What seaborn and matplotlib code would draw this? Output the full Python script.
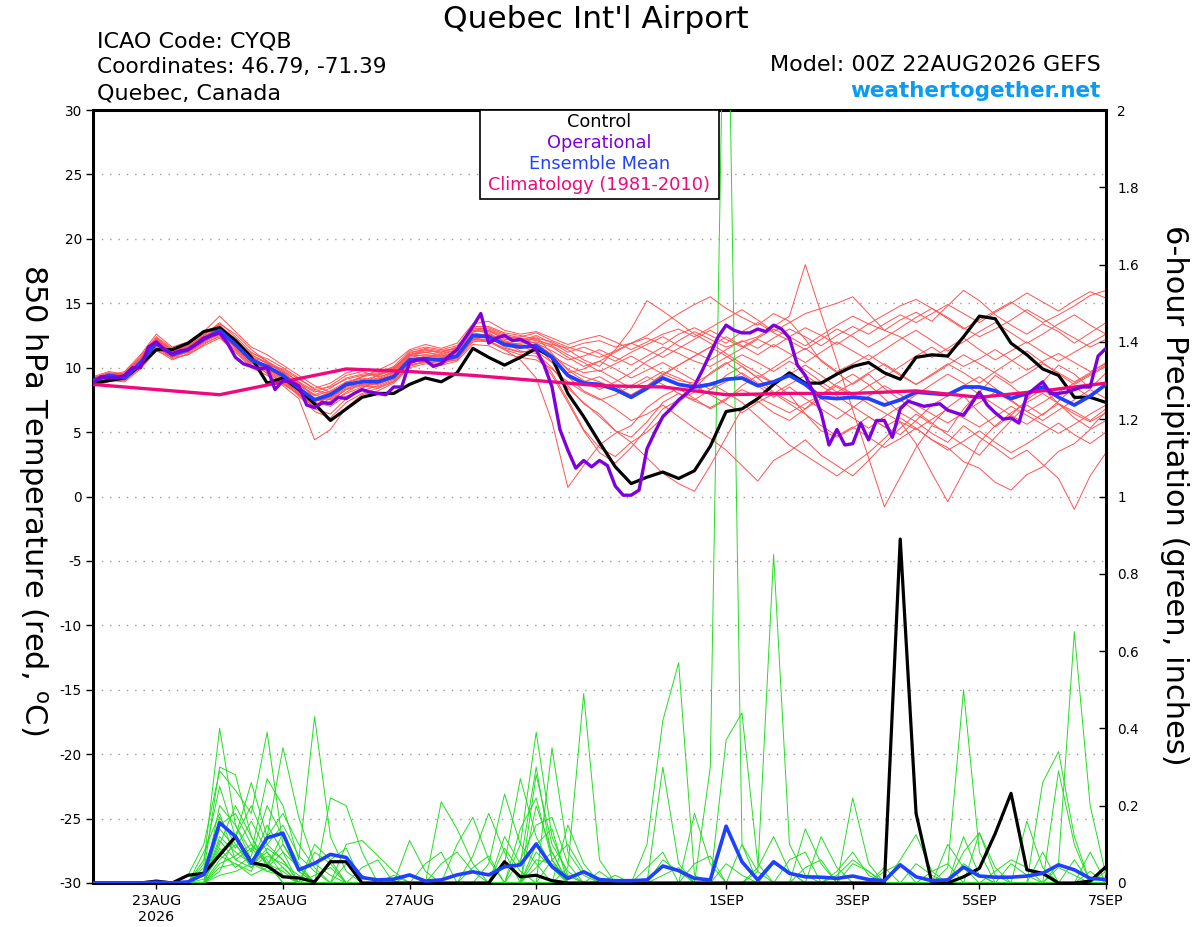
import numpy as np
import pandas as pd
import seaborn as sns
import matplotlib.pyplot as plt
from matplotlib.patches import Rectangle

# ---------------- data: GEFS 00Z 22AUG2026, Quebec (CYQB) ----------------
start, end = "2026-08-22 00:00", "2026-09-07 00:00"
steps = pd.date_range(start, end, freq="6h")      # 65 steps
steps_3h = pd.date_range(start, end, freq="3h")   # operational run, 129 steps
clim_days = pd.date_range(start, end, freq="1D")  # 17 days

# 850 hPa temperature (C), 6-hourly
control_temp = [8.8, 9.0, 9.2, 10.2, 11.4, 11.4, 11.9, 12.8, 13.1, 12.1, 10.8, 8.8, 9.2,
                8.3, 7.2, 5.9, 6.8, 7.7, 8.0, 8.0, 8.7, 9.2, 8.9, 9.6, 11.5, 10.8,
                10.2, 10.8, 11.5, 10.8, 8.0, 6.2, 4.2, 2.3, 1.0, 1.5, 1.9, 1.4, 2.0,
                3.9, 6.6, 6.8, 7.6, 8.7, 9.6, 8.8, 8.8, 9.5, 10.1, 10.4, 9.6, 9.1,
                10.8, 11.0, 10.9, 12.4, 14.0, 13.8, 11.9, 11.0, 9.9, 9.4, 7.7, 7.7, 7.3]

mean_temp = [9.0, 9.4, 9.2, 10.4, 11.9, 11.0, 11.4, 12.2, 12.9, 11.8, 10.6, 10.1, 9.4,
             8.4, 7.5, 7.9, 8.7, 8.9, 8.9, 9.3, 10.6, 10.7, 10.6, 10.9, 12.5, 12.4,
             11.8, 11.6, 11.7, 10.8, 9.4, 8.8, 8.7, 8.3, 7.7, 8.4, 9.2, 8.7, 8.5,
             8.7, 9.1, 9.2, 8.6, 8.9, 9.4, 8.7, 7.7, 7.6, 7.7, 7.6, 7.1, 7.5,
             8.1, 8.0, 7.9, 8.5, 8.5, 8.2, 7.6, 8.0, 8.5, 7.7, 7.1, 7.8, 8.7]

# operational run, 3-hourly (one row per day)
oper_temp = [8.8, 9.3, 9.2, 9.2, 9.4, 10.0, 10.0, 11.6,
             12.0, 11.4, 11.1, 11.3, 11.4, 11.8, 12.3, 12.5,
             12.7, 11.9, 10.8, 10.3, 10.1, 9.9, 10.0, 8.3,
             9.0, 8.9, 8.6, 7.1, 6.9, 7.3, 7.2, 7.7,
             7.6, 8.0, 8.3, 8.1, 8.0, 7.9, 8.5, 8.5,
             10.4, 10.6, 10.6, 10.1, 10.3, 10.9, 11.4, 12.3,
             13.2, 14.2, 11.9, 12.3, 12.5, 12.1, 12.2, 11.9,
             11.4, 10.2, 8.5, 5.2, 3.6, 2.2, 2.8, 2.3,
             2.8, 2.4, 0.8, 0.1, 0.1, 0.5, 3.7, 5.0,
             6.2, 6.8, 7.5, 8.0, 8.6, 9.8, 11.1, 12.4,
             13.3, 12.9, 12.7, 12.7, 13.0, 12.8, 13.3, 13.0,
             12.3, 10.2, 9.4, 8.1, 6.5, 4.0, 5.2, 4.0,
             4.1, 5.7, 4.4, 5.9, 5.9, 4.6, 6.8, 7.4,
             7.2, 7.0, 7.1, 7.2, 6.7, 6.5, 6.3, 7.2,
             8.1, 7.1, 6.5, 6.0, 6.1, 5.7, 7.9, 8.4,
             8.9, 8.0, 8.0, 8.1, 8.3, 8.5, 8.5, 10.9,
             11.5]

# 1981-2010 climatology, daily
clim_temp = [8.7, 8.3, 7.9, 8.9, 9.9, 9.7, 9.4, 9.0, 8.6, 8.5, 7.9, 8.0, 8.0, 8.2, 7.7, 8.2, 8.8]

# ensemble members, 850 hPa temperature
temp_members = [
    [8.8, 9.2, 9.5, 10.8, 12.3, 11.3, 11.6, 12.5, 13.4, 12.6, 11.4, 10.5, 9.8,
     8.9, 7.6, 7.2, 8.1, 8.8, 9.4, 9.9, 11.0, 11.4, 11.2, 11.6, 13.0, 13.1,
     12.6, 12.3, 12.1, 11.8, 11.5, 11.9, 12.1, 11.6, 11.9, 12.3, 11.8, 12.6, 13.1,
     12.5, 11.9, 12.8, 13.5, 12.7, 12.1, 11.4, 12.2, 13.0, 12.4, 11.6, 12.3, 13.1,
     13.9, 14.6, 13.8, 13.0, 13.7, 14.4, 15.1, 14.3, 13.5, 14.1, 14.8, 15.6, 16.0],
    [9.1, 9.5, 9.3, 10.2, 11.6, 10.9, 11.2, 12.0, 12.6, 11.5, 10.2, 9.6, 8.8,
     7.9, 6.9, 7.4, 8.3, 8.6, 8.5, 9.0, 10.2, 10.5, 10.3, 10.8, 12.1, 12.0,
     11.4, 10.6, 9.2, 5.8, 0.7, 2.4, 4.0, 4.9, 5.5, 6.9, 7.8, 8.4, 7.6,
     6.8, 7.5, 8.6, 9.4, 8.8, 7.9, 6.4, 5.1, 4.6, 5.3, 6.2, 5.4, 4.8,
     5.9, 7.1, 7.8, 8.6, 9.3, 8.4, 7.5, 6.6, 7.3, 8.1, 8.8, 9.5, 10.2],
    [8.9, 9.3, 9.0, 10.1, 11.8, 11.1, 11.5, 12.3, 13.2, 12.0, 10.8, 10.4, 9.6,
     8.2, 6.8, 6.4, 7.6, 8.4, 9.1, 9.6, 10.9, 11.0, 10.8, 11.2, 12.8, 12.9,
     12.2, 12.0, 12.4, 11.1, 9.8, 9.0, 8.3, 8.9, 9.6, 10.5, 11.2, 12.1, 12.8,
     12.2, 11.6, 12.0, 12.4, 13.2, 14.0, 18.0, 14.2, 10.5, 6.7, 3.0, -0.8, 1.5,
     3.8, 5.5, 5.0, 6.8, 8.1, 9.4, 8.6, 7.6, 8.9, 10.2, 9.5, 8.4, 9.6],
    [9.2, 9.6, 9.4, 10.5, 12.0, 11.2, 11.3, 12.1, 12.8, 11.9, 10.9, 10.0, 9.1,
     8.0, 7.1, 7.8, 8.9, 9.2, 9.0, 9.5, 10.8, 11.0, 10.9, 11.1, 12.6, 12.3,
     11.9, 11.5, 11.8, 10.4, 8.6, 7.2, 6.4, 5.1, 4.6, 5.8, 7.3, 8.0, 7.5,
     8.3, 9.4, 10.1, 9.2, 8.1, 7.4, 6.8, 7.9, 8.8, 9.5, 8.7, 7.6, 6.5,
     5.8, 4.9, 4.2, 5.5, 4.6, 3.8, 2.9, 3.6, 2.5, 1.4, -1.0, 1.6, 3.4],
    [8.7, 9.0, 9.1, 10.0, 11.5, 10.8, 11.2, 12.0, 12.7, 11.6, 10.4, 9.9, 9.2,
     8.6, 7.9, 8.4, 9.2, 9.5, 9.6, 10.1, 11.3, 11.6, 11.4, 11.7, 13.1, 13.0,
     12.5, 12.2, 11.9, 11.3, 10.6, 10.9, 11.4, 10.8, 10.2, 10.9, 11.6, 11.1, 10.5,
     10.1, 10.8, 11.5, 12.2, 11.6, 12.4, 13.1, 12.5, 11.8, 12.6, 13.4, 12.9, 13.7,
     14.3, 13.6, 14.8, 16.0, 15.2, 14.1, 13.3, 12.6, 13.4, 12.8, 11.9, 12.7, 13.5],
    [9.0, 9.3, 9.6, 10.6, 12.1, 11.4, 11.7, 12.4, 13.1, 12.3, 11.0, 10.3, 9.7,
     8.5, 7.3, 7.0, 7.8, 8.2, 8.6, 9.1, 10.4, 10.6, 10.5, 10.6, 12.2, 12.4,
     11.6, 11.2, 11.4, 10.9, 9.3, 8.2, 7.6, 6.8, 5.9, 6.4, 7.1, 6.2, 5.3,
     4.5, 3.6, 2.4, 1.2, 2.8, 3.5, 4.4, 3.2, 2.4, 1.6, 2.8, 4.1, 5.3,
     6.4, 5.6, 6.9, 7.8, 6.5, 5.4, 6.3, 7.5, 8.4, 7.2, 6.1, 5.3, 6.6],
    [8.6, 8.9, 9.2, 10.3, 11.7, 10.7, 11.0, 11.8, 12.5, 11.3, 10.1, 9.8, 9.4,
     8.8, 8.1, 8.6, 9.4, 9.7, 9.3, 9.6, 10.7, 10.8, 10.4, 10.6, 12.0, 12.2,
     11.8, 11.9, 12.3, 12.0, 11.4, 10.6, 10.1, 11.4, 13.0, 15.2, 14.4, 13.5, 12.6,
     11.9, 11.1, 10.3, 9.6, 8.8, 9.5, 10.2, 9.4, 8.5, 7.8, 8.6, 9.3, 10.1,
     10.9, 11.6, 10.8, 10.1, 10.7, 11.4, 10.6, 9.8, 10.5, 11.1, 10.4, 9.7, 10.3],
    [9.3, 9.7, 9.5, 10.7, 12.2, 11.0, 11.4, 12.2, 13.0, 12.1, 10.7, 9.5, 8.6,
     7.6, 4.4, 5.2, 6.9, 7.9, 8.2, 8.8, 10.0, 10.3, 10.2, 10.9, 12.4, 12.6,
     12.1, 11.7, 11.2, 9.6, 7.5, 5.2, 3.8, 3.1, 4.2, 3.0, 1.8, 1.0, 0.4,
     2.4, 4.6, 6.8, 7.4, 6.5, 5.9, 6.8, 7.6, 6.9, 6.1, 5.3, 6.2, 7.0,
     7.9, 8.7, 9.5, 8.8, 7.9, 7.1, 6.3, 5.6, 6.4, 7.2, 6.6, 5.9, 6.8],
    [8.9, 9.4, 9.7, 11.0, 12.6, 11.6, 12.0, 12.8, 14.0, 12.8, 11.6, 11.0, 10.2,
     9.4, 8.6, 8.1, 8.8, 9.3, 9.8, 10.4, 11.4, 11.8, 11.5, 11.9, 13.4, 13.6,
     12.9, 12.6, 12.8, 12.3, 11.8, 12.2, 12.5, 12.0, 11.4, 12.0, 12.6, 13.0, 12.4,
     13.1, 13.8, 14.5, 13.7, 12.8, 13.5, 14.2, 14.6, 15.0, 15.5, 14.2, 12.9, 12.4,
     11.6, 10.8, 11.5, 12.3, 11.4, 10.6, 11.3, 12.0, 11.2, 10.5, 11.2, 11.9, 12.6],
    [9.1, 9.4, 9.2, 10.3, 11.9, 11.2, 11.6, 12.3, 12.9, 11.7, 10.5, 9.8, 8.9,
     8.1, 7.4, 7.7, 8.5, 8.9, 9.2, 9.7, 10.9, 11.2, 10.9, 11.3, 12.7, 12.5,
     11.9, 11.6, 11.5, 10.9, 10.2, 9.6, 9.8, 9.1, 8.4, 9.0, 9.7, 9.2, 8.6,
     7.9, 7.2, 6.5, 7.3, 8.0, 7.2, 6.4, 5.5, 4.7, 5.4, 4.6, 3.8, 4.5,
     5.3, 4.4, 3.6, 4.3, 5.1, 4.2, 3.4, 4.1, 4.9, 5.7, 4.8, 4.1, 5.0],
    [8.8, 9.1, 9.0, 10.0, 11.4, 10.6, 11.1, 11.9, 12.4, 11.4, 10.3, 10.2, 9.9,
     9.1, 8.4, 8.8, 9.6, 9.9, 9.7, 10.0, 11.0, 11.2, 11.0, 11.4, 12.9, 12.7,
     12.0, 11.6, 11.6, 10.7, 9.5, 8.9, 9.3, 8.6, 7.8, 8.6, 9.4, 10.2, 10.9,
     11.6, 10.9, 10.1, 9.2, 10.0, 10.8, 11.5, 10.6, 9.7, 10.3, 11.0, 10.2, 9.4,
     8.7, 9.5, 10.3, 9.6, 8.8, 9.7, 10.5, 11.3, 10.4, 9.5, 8.7, 9.4, 10.1],
    [9.0, 9.2, 9.4, 10.5, 12.0, 11.0, 11.3, 12.1, 12.7, 11.8, 10.6, 9.9, 9.0,
     7.8, 6.6, 6.1, 7.3, 8.0, 8.4, 8.9, 10.1, 10.5, 10.6, 10.9, 12.3, 12.1,
     11.4, 11.0, 10.9, 9.4, 7.3, 5.1, 3.4, 2.6, 3.8, 5.3, 6.8, 7.5, 8.1,
     8.8, 8.1, 7.3, 6.2, 5.1, 4.0, 3.2, 2.4, 1.6, 2.5, 3.4, 4.5, 5.8,
     4.1, 1.8, -0.4, 1.9, 4.2, 5.5, 6.5, 7.3, 8.0, 7.2, 6.4, 5.8, 6.5],
    [9.2, 9.5, 9.3, 10.6, 12.2, 11.3, 11.8, 12.6, 13.3, 12.2, 11.1, 10.7, 10.0,
     9.2, 8.3, 8.5, 9.1, 9.4, 9.5, 10.0, 11.1, 11.5, 11.3, 11.5, 12.9, 12.8,
     12.3, 12.4, 12.7, 12.1, 11.6, 11.2, 10.8, 11.3, 11.9, 11.4, 10.8, 11.5, 12.2,
     12.9, 12.2, 11.6, 12.3, 13.0, 12.4, 11.7, 12.5, 13.3, 14.0, 13.4, 14.1, 14.8,
     15.3, 14.6, 13.9, 13.1, 12.4, 13.0, 13.7, 14.5, 13.8, 13.0, 12.3, 11.6, 12.2],
    [8.7, 9.0, 8.9, 9.9, 11.3, 10.8, 11.0, 11.7, 12.3, 11.2, 10.0, 9.4, 8.7,
     8.0, 7.6, 8.1, 8.7, 8.6, 8.4, 8.9, 10.2, 10.4, 10.2, 10.5, 11.8, 11.7,
     11.1, 10.8, 10.6, 9.9, 8.9, 8.1, 7.5, 7.9, 8.6, 9.3, 8.7, 8.0, 7.4,
     6.9, 7.6, 8.3, 7.7, 7.1, 6.5, 7.2, 7.9, 8.6, 8.0, 7.2, 6.5, 5.8,
     5.2, 6.0, 6.8, 6.1, 5.4, 6.2, 7.0, 6.3, 5.6, 4.9, 5.6, 6.4, 7.1],
    [9.0, 9.4, 9.3, 10.4, 11.9, 11.1, 11.5, 12.3, 13.0, 11.9, 10.7, 10.1, 9.3,
     8.3, 7.4, 7.6, 8.6, 9.0, 9.1, 9.4, 10.6, 10.9, 10.8, 11.0, 12.5, 12.6,
     12.0, 11.8, 12.0, 11.6, 10.8, 10.1, 10.5, 11.2, 11.9, 12.5, 13.4, 14.2, 14.9,
     15.5, 14.6, 13.9, 13.3, 14.2, 13.6, 12.2, 10.5, 9.6, 8.7, 9.5, 8.4, 7.5,
     6.6, 5.7, 4.8, 4.0, 3.2, 4.6, 5.9, 7.1, 6.3, 7.4, 8.5, 7.7, 8.6],
    [8.9, 9.2, 9.1, 10.2, 11.8, 10.9, 11.4, 12.1, 12.8, 11.7, 10.5, 10.0, 9.5,
     8.7, 7.8, 8.2, 8.9, 9.1, 8.9, 9.3, 10.5, 10.7, 10.6, 10.8, 12.3, 12.4,
     11.7, 11.5, 11.9, 11.0, 9.9, 9.3, 8.9, 8.4, 7.9, 8.6, 9.5, 9.0, 8.8,
     9.5, 10.3, 11.0, 10.4, 9.7, 10.5, 9.8, 8.9, 8.1, 8.8, 9.6, 10.3, 9.5,
     8.7, 9.4, 10.2, 11.0, 10.3, 9.6, 8.8, 9.5, 10.3, 9.6, 8.9, 9.6, 10.4],
    [9.1, 9.5, 9.4, 10.4, 12.0, 11.3, 11.4, 12.2, 12.9, 11.9, 10.8, 10.0, 9.2,
     8.4, 7.5, 7.3, 8.0, 8.5, 8.8, 9.2, 10.3, 10.7, 10.5, 10.7, 12.4, 12.3,
     11.9, 11.3, 11.1, 10.0, 8.4, 7.3, 6.2, 5.1, 4.2, 5.0, 6.1, 7.3, 8.4,
     9.6, 10.4, 9.5, 8.6, 7.7, 8.5, 7.6, 6.8, 6.0, 6.9, 7.8, 8.6, 7.9,
     7.1, 6.4, 5.7, 6.5, 7.3, 8.1, 7.4, 6.6, 5.9, 6.7, 7.5, 8.3, 7.6],
    [8.8, 9.3, 9.6, 10.9, 12.4, 11.5, 11.7, 12.5, 13.5, 12.4, 11.2, 10.5, 9.6,
     8.7, 7.9, 7.5, 8.3, 9.0, 9.4, 9.8, 11.0, 11.3, 11.2, 11.5, 13.2, 13.2,
     12.7, 12.5, 12.2, 11.7, 11.0, 10.4, 9.7, 10.3, 10.9, 10.2, 9.5, 10.2, 10.9,
     11.6, 12.4, 11.7, 11.0, 11.8, 11.1, 10.4, 11.2, 12.0, 11.3, 10.6, 11.4, 12.2,
     12.9, 12.1, 11.3, 12.0, 12.8, 13.5, 12.7, 11.9, 12.6, 13.4, 14.1, 13.3, 12.6],
    [9.0, 9.3, 9.2, 10.2, 11.7, 10.9, 11.3, 12.0, 12.6, 11.6, 10.4, 9.7, 8.8,
     7.9, 7.0, 7.6, 8.4, 8.7, 8.7, 9.2, 10.4, 10.6, 10.4, 10.8, 12.2, 12.1,
     11.5, 11.2, 11.3, 10.4, 9.6, 9.9, 10.5, 9.9, 9.2, 9.8, 10.4, 9.7, 9.0,
     8.3, 8.9, 9.6, 8.8, 8.0, 8.7, 9.4, 8.6, 7.8, 7.0, 6.2, 5.4, 6.1,
     5.3, 4.4, 3.8, 2.7, 2.2, 1.1, 0.5, 1.7, 2.3, 3.5, 4.1, 5.2, 5.9],
    [9.2, 9.6, 9.5, 10.7, 12.3, 11.4, 11.6, 12.4, 13.2, 12.2, 11.0, 10.4, 9.7,
     8.9, 8.2, 8.0, 8.8, 9.3, 9.5, 9.9, 11.2, 11.4, 11.1, 11.4, 13.0, 12.9,
     12.4, 12.1, 12.5, 11.9, 11.2, 11.6, 11.1, 10.5, 11.2, 11.8, 12.4, 11.7, 11.2,
     10.6, 11.4, 12.1, 11.5, 12.3, 13.0, 12.4, 11.7, 12.5, 13.2, 12.6, 13.4, 14.1,
     13.5, 14.2, 14.9, 14.2, 13.5, 14.3, 15.0, 15.8, 15.1, 14.4, 15.2, 15.9, 15.4],
]

# 6-hour precipitation (inches)
control_precip = [0, 0, 0, 0, .005, 0, .02, .025, .072, .12, .053, .044, .016,
                  .013, .003, .055, .055, 0, 0, 0, 0, 0, 0, 0, 0, 0,
                  .055, .016, .02, .006, 0, 0, 0, 0, 0, 0, 0, 0, 0,
                  0, 0, 0, 0, 0, 0, 0, 0, 0, 0, 0, 0, .89,
                  .18, 0, 0, .016, .038, .128, .232, .034, .025, 0, 0, .005, .042]

mean_precip = [0, 0, 0, 0, .002, 0, .003, .022, .156, .12, .051, .117, .129,
               .034, .051, .074, .066, .014, .008, .01, .021, .005, .008, .021, .029, .021,
               .042, .047, .101, .042, .012, .029, .009, .006, .006, .008, .044, .032, .012,
               .008, .147, .055, .008, .055, .025, .016, .015, .012, .018, .009, .006, .047,
               .016, .006, .008, .041, .018, .015, .015, .018, .025, .047, .034, .012, .009]

# member rain, {6-hour step: inches}, dry steps left out
precip_events = [
    {7: .05, 8: .40, 9: .15, 10: .06, 11: .03, 12: .02, 22: .05, 23: .08, 24: .03, 27: .10,
     28: .39, 29: .12, 30: .02, 39: .30, 40: 2.70, 41: .10, 55: .05, 56: .02},
    {7: .03, 8: .30, 9: .28, 10: .12, 11: .05, 14: .02, 15: .04, 25: .05, 26: .23, 27: .10,
     28: .05, 36: .02, 37: .04, 42: .03, 43: .85, 44: .10, 45: .02, 61: .05, 62: .65, 63: .20, 64: .02},
    {6: .02, 7: .10, 8: .29, 9: .24, 10: .18, 11: .39, 12: .10, 13: .04, 29: .35, 30: .08,
     31: .02, 48: .22, 49: .05, 55: .12, 56: .02},
    {7: .06, 8: .25, 9: .12, 10: .26, 11: .12, 12: .35, 13: .17, 14: .05, 15: .02, 30: .04,
     31: .49, 32: .06, 47: .02, 48: .06, 49: .03},
    {8: .20, 9: .15, 10: .08, 11: .27, 12: .20, 13: .06, 14: .43, 15: .12, 16: .03, 28: .28,
     29: .10, 30: .03, 50: .03, 51: .05},
    {8: .17, 9: .10, 10: .05, 11: .08, 12: .04, 15: .22, 16: .20, 17: .08, 35: .10, 36: .42,
     37: .57, 38: .02, 54: .04, 55: .50, 56: .08},
    {7: .04, 8: .15, 9: .18, 10: .10, 11: .06, 16: .10, 17: .11, 18: .07, 19: .03, 27: .06,
     28: .15, 29: .17, 30: .05, 36: .30, 37: .05, 51: .06, 52: .125, 53: .03},
    {8: .12, 9: .08, 10: .05, 11: .15, 12: .08, 20: .11, 21: .03, 24: .07, 25: .18, 26: .08,
     40: .37, 41: .44, 42: .05, 60: .26, 61: .34, 62: .12},
    {8: .10, 9: .20, 10: .12, 11: .04, 12: .13, 13: .05, 26: .05, 27: .27, 28: .12, 29: .04,
     38: .18, 39: .05, 45: .14, 46: .05, 59: .16, 60: .04},
    {7: .02, 8: .08, 9: .12, 10: .06, 11: .10, 12: .15, 13: .07, 14: .03, 22: .21, 23: .14,
     24: .05, 33: .02, 46: .12, 47: .04, 61: .29, 62: .10},
    {8: .06, 9: .10, 10: .04, 11: .07, 12: .05, 13: .02, 17: .04, 18: .06, 28: .20, 29: .08,
     42: .04, 43: .12, 44: .03, 54: .10, 55: .04, 63: .08},
    {8: .05, 9: .07, 10: .10, 11: .05, 12: .03, 14: .08, 15: .05, 23: .10, 24: .17, 25: .06,
     30: .15, 31: .05, 44: .06, 45: .08, 56: .13, 57: .04},
    {7: .08, 8: .18, 9: .06, 10: .04, 11: .09, 12: .06, 26: .12, 27: .05, 28: .30, 29: .06,
     35: .04, 36: .08, 48: .05, 49: .03, 57: .03, 58: .06, 59: .04},
    {8: .04, 9: .05, 10: .03, 11: .12, 12: .18, 13: .10, 14: .04, 21: .05, 22: .08, 29: .06,
     30: .10, 31: .03, 38: .05, 39: .07, 64: .03},
    {8: .14, 9: .09, 10: .16, 11: .08, 12: .02, 16: .05, 17: .02, 27: .14, 28: .22, 29: .06,
     41: .10, 42: .03, 52: .05, 53: .02, 60: .08},
    {8: .09, 9: .04, 10: .07, 11: .20, 12: .12, 13: .03, 24: .04, 25: .07, 28: .10, 29: .14,
     36: .06, 37: .03, 50: .04, 55: .08, 56: .13, 57: .02},
    {8: .03, 9: .12, 10: .20, 11: .10, 12: .06, 15: .06, 16: .09, 28: .06, 29: .05, 30: .02,
     43: .05, 44: .03, 62: .06},
    {7: .01, 8: .07, 9: .05, 10: .02, 11: .04, 12: .08, 13: .04, 19: .02, 28: .04, 29: .08,
     47: .03, 48: .08, 49: .02, 61: .04, 62: .02},
    {8: .11, 9: .06, 10: .09, 11: .05, 12: .10, 13: .03, 26: .09, 27: .03, 40: .05, 41: .02,
     53: .03, 54: .05, 63: .03},
    {8: .02, 9: .03, 10: .05, 11: .03, 12: .04, 14: .10, 15: .06, 20: .02, 28: .08, 29: .04,
     32: .03, 45: .04, 46: .06, 58: .05, 59: .02},
]

tick_dates = pd.to_datetime(["2026-08-23", "2026-08-25", "2026-08-27", "2026-08-29",
                             "2026-09-01", "2026-09-03", "2026-09-05", "2026-09-07"])
tick_labels = ["23AUG\n2026", "25AUG", "27AUG", "29AUG", "1SEP", "3SEP", "5SEP", "7SEP"]

# ---------------- styling ----------------
RED, GREEN = "#ff5252", "#22dd22"
PURPLE, BLUE, PINK = "#7d00dd", "#2040ff", "#f0087c"

sns.set_theme(style="ticks", rc={"axes.edgecolor": "black", "text.color": "black",
                                 "xtick.color": "black", "ytick.color": "black",
                                 "axes.labelcolor": "black"})
plt.rcParams['font.family'] = ['DejaVu Sans']
plt.rcParams['axes.unicode_minus'] = False

fig = plt.figure(figsize=(12, 9.27), dpi=100)
ax = fig.add_axes([93 / 1200, 1 - 883 / 927, (1106 - 93) / 1200, (883 - 110) / 927])
axp = ax.twinx()   # precipitation
axt = ax.twinx()   # bold temperature lines on top

# members
df_tm = pd.concat([pd.DataFrame({"time": steps, "temp": v, "member": i})
                   for i, v in enumerate(temp_members)])
sns.lineplot(data=df_tm, x="time", y="temp", units="member", estimator=None,
             color=RED, lw=0.7, ax=ax, legend=False)

precip_members = [[ev.get(k, 0.0) for k in range(len(steps))] for ev in precip_events]
df_pm = pd.concat([pd.DataFrame({"time": steps, "precip": v, "member": i})
                   for i, v in enumerate(precip_members)])
sns.lineplot(data=df_pm, x="time", y="precip", units="member", estimator=None,
             color=GREEN, lw=0.7, ax=axp, legend=False)

# precip control / mean
sns.lineplot(x=steps, y=control_precip, color="black", lw=2.3, ax=axp)
sns.lineplot(x=steps, y=mean_precip, color=BLUE, lw=2.6, ax=axp)

# temperature control / mean / climatology / operational
sns.lineplot(x=steps, y=control_temp, color="black", lw=2.3, ax=axt)
sns.lineplot(x=steps, y=mean_temp, color=BLUE, lw=2.7, ax=axt)
sns.lineplot(x=clim_days, y=clim_temp, color=PINK, lw=2.4, ax=axt)
sns.lineplot(x=steps_3h, y=oper_temp, color=PURPLE, lw=2.4, ax=axt)

# axes
ax.set_xlim(steps[0], steps[-1])
ax.set_ylim(-30, 30)
axt.set_ylim(-30, 30)
axp.set_ylim(0, 2)
for a in (ax, axp, axt):
    a.set_xlabel("")
    a.set_ylabel("")

ax.set_yticks(range(-30, 31, 5))
ax.yaxis.grid(True, linestyle=(0, (1, 5)), color="#9a9a9a", lw=1)
ax.tick_params(axis="y", direction="out", length=5, width=1, labelsize=9.8, pad=3)
ax.set_xticks(tick_dates)
ax.set_xticklabels(tick_labels)
ax.tick_params(axis="x", direction="out", length=4, width=1, labelsize=10.3, pad=4)
ax.tick_params(top=False, right=False)

pticks = np.round(np.arange(0, 2.01, 0.2), 1)
axp.set_yticks(pticks)
axp.set_yticklabels([f"{v:g}" for v in pticks])
axp.tick_params(axis="y", direction="in", length=5, width=1, labelsize=9.8, pad=8)

axt.yaxis.set_visible(False)
for s in axt.spines.values():
    s.set_visible(False)
for s in axp.spines.values():
    s.set_visible(False)
for s in ax.spines.values():
    s.set_visible(True)
    s.set_linewidth(2.2)

# legend box
axt.add_patch(Rectangle((0.382, 0.885), 0.236, 0.115, transform=axt.transAxes,
                        facecolor="white", edgecolor="black", lw=1.2, zorder=10))
for yy, txt, col in [(0.978, "Control", "black"), (0.951, "Operational", PURPLE),
                     (0.9235, "Ensemble Mean", BLUE), (0.896, "Climatology (1981-2010)", PINK)]:
    axt.text(0.5, yy, txt, color=col, transform=axt.transAxes, ha="center",
             va="baseline", fontsize=12.8, zorder=11)

# header
fig.text(596 / 1200, 1 - 28 / 927, "Quebec Int'l Airport", ha="center", va="baseline", fontsize=22.5)
fig.text(97 / 1200, 1 - 47 / 927, "ICAO Code: CYQB", ha="left", va="baseline", fontsize=16)
fig.text(97 / 1200, 1 - 73 / 927, "Coordinates: 46.79, -71.39", ha="left", va="baseline", fontsize=15.6)
fig.text(97 / 1200, 1 - 100 / 927, "Quebec, Canada", ha="left", va="baseline", fontsize=16)
fig.text(1101 / 1200, 1 - 71 / 927, "Model: 00Z 22AUG2026 GEFS", ha="right", va="baseline", fontsize=16)
fig.text(1101 / 1200, 1 - 97 / 927, "weathertogether.net", ha="right", va="baseline",
         fontsize=15.5, fontweight="bold", color="#0a9cf2")

fig.text(33 / 1200, 1 - 500 / 927, "850 hPa Temperature (red, $\\mathregular{^o}$C)",
         rotation=270, ha="center", va="center", fontsize=22)
fig.text(1174 / 1200, 1 - 495 / 927, "6-hour Precipitation (green, inches)",
         rotation=270, ha="center", va="center", fontsize=22)

fig.savefig("out.png", dpi=100)
